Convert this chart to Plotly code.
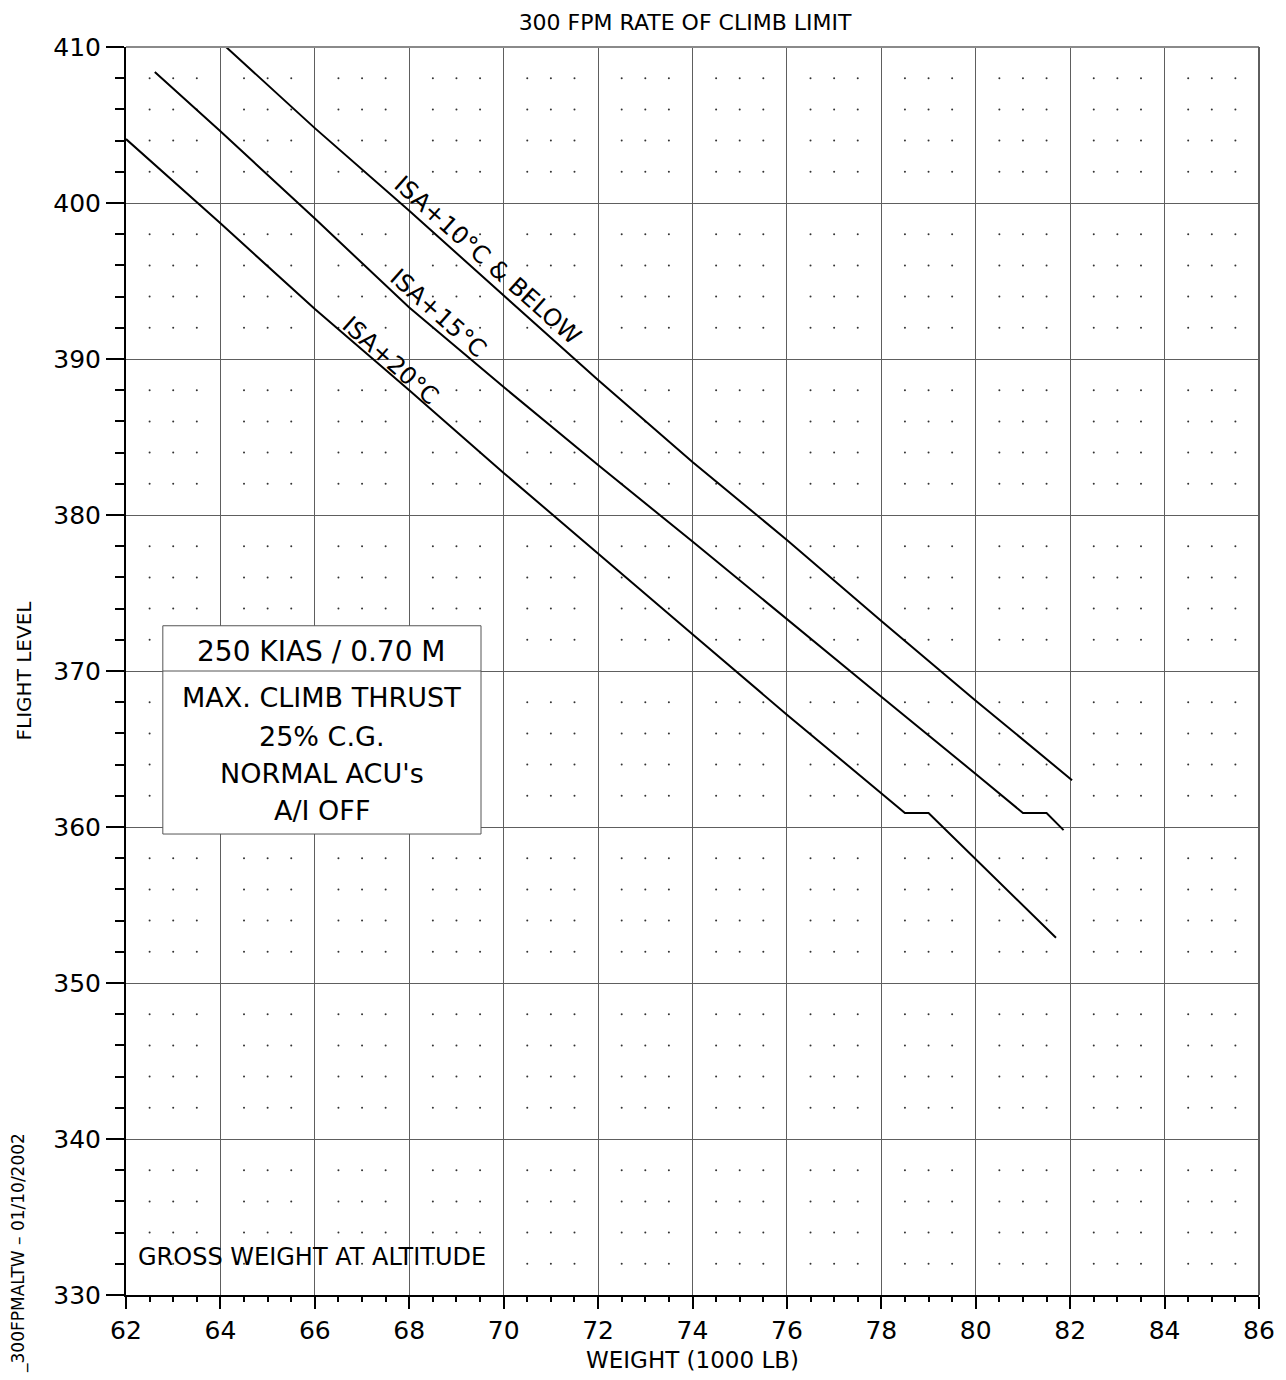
import numpy as np
import plotly.graph_objects as go

# ---- data ----
weight_isa10 = [64.12, 66, 68, 70, 72, 74, 76, 78, 80, 82.04]
fl_isa10 = [410.0, 404.8, 399.5, 394.1, 388.65, 383.4, 378.4, 373.2, 368.1, 363.0]

weight_isa15 = [62.61, 64, 66, 68, 70, 72, 74, 76, 78, 80, 81.0, 81.5, 81.86]
fl_isa15 = [408.4, 404.6, 399.0, 393.3, 388.2, 383.2, 378.3, 373.3, 368.35, 363.4, 360.9, 360.9, 359.8]

weight_isa20 = [62, 64, 66, 68, 70, 72, 74, 76, 78.5, 79.0, 81.7]
fl_isa20 = [404.1, 398.7, 393.2, 388.0, 382.7, 377.5, 372.35, 367.2, 360.9, 360.9, 352.9]

curve_labels = ["ISA+10°C & BELOW", "ISA+15°C", "ISA+20°C"]
x_ticks = list(range(62, 87, 2))
y_ticks = list(range(330, 411, 10))
box_lines = ["250 KIAS / 0.70 M", "MAX. CLIMB THRUST", "25% C.G.", "NORMAL ACU's", "A/I OFF"]

FONT = "DejaVu Sans"

fig = go.Figure()

# dotted minor grid (dots at minor intersections)
dx, dy = [], []
for xv in np.arange(62.5, 86.0, 0.5):
    if abs(xv / 2 - round(xv / 2)) < 1e-9:
        continue
    for yv in range(332, 410, 2):
        if yv % 10 == 0:
            continue
        dx.append(xv)
        dy.append(yv)
fig.add_trace(go.Scatter(x=dx, y=dy, mode="markers",
                         marker=dict(size=2, color="#333333"),
                         hoverinfo="skip", showlegend=False))

for wx, fy in [(weight_isa10, fl_isa10), (weight_isa15, fl_isa15), (weight_isa20, fl_isa20)]:
    fig.add_trace(go.Scatter(x=wx, y=fy, mode="lines",
                             line=dict(color="black", width=2),
                             showlegend=False))

axis_common = dict(
    showgrid=True, gridcolor="#5e5e5e", gridwidth=1,
    showline=True, linecolor="black", linewidth=2,
    ticks="outside", tickcolor="black", tickwidth=2,
    zeroline=False,
    tickfont=dict(family=FONT, size=25, color="black"),
)

fig.update_xaxes(range=[62, 86], tickvals=x_ticks, ticktext=[str(v) for v in x_ticks],
                 ticklen=12,
                 minor=dict(dtick=0.5, tick0=62, ticks="outside", ticklen=5,
                            tickcolor="black", tickwidth=2, showgrid=False),
                 title=dict(text="WEIGHT (1000 LB)", font=dict(family=FONT, size=23, color="black"),
                            standoff=8),
                 **axis_common)
fig.update_yaxes(range=[330, 410], tickvals=y_ticks, ticktext=[str(v) for v in y_ticks],
                 ticklen=18,
                 minor=dict(dtick=2, tick0=330, ticks="outside", ticklen=9,
                            tickcolor="black", tickwidth=2, showgrid=False),
                 title=dict(text="FLIGHT LEVEL", font=dict(family=FONT, size=20, color="black"),
                            standoff=16),
                 **axis_common)

shapes = [
    # top and right borders (gridline style)
    dict(type="line", xref="paper", yref="paper", x0=0, x1=1, y0=1, y1=1,
         line=dict(color="#8a8a8a", width=2), layer="above"),
    dict(type="line", xref="paper", yref="paper", x0=1, x1=1, y0=0, y1=1,
         line=dict(color="#5e5e5e", width=2), layer="above"),
    # conditions box
    dict(type="rect", xref="x", yref="y", x0=62.78, x1=69.52, y0=359.55, y1=372.9,
         fillcolor="white", line=dict(color="#555555", width=1), layer="above"),
    dict(type="line", xref="x", yref="y", x0=62.78, x1=69.52, y0=370, y1=370,
         line=dict(color="#555555", width=1), layer="above"),
]

annotations = []
box_y = [371.22, 368.33, 365.77, 363.4, 361.03]
box_size = [28, 27, 27, 27, 27]
for txt, yv, fs in zip(box_lines, box_y, box_size):
    annotations.append(dict(x=66.15, y=yv, xref="x", yref="y", text=txt, showarrow=False,
                            font=dict(family=FONT, size=fs, color="black"),
                            xanchor="center", yanchor="middle"))

label_pos = [(69.65, 396.35), (68.61, 392.95), (67.61, 389.87)]
for txt, (lx, ly) in zip(curve_labels, label_pos):
    annotations.append(dict(x=lx, y=ly, xref="x", yref="y", text=txt, showarrow=False,
                            textangle=41.6,
                            font=dict(family=FONT, size=24, color="black"),
                            xanchor="center", yanchor="middle"))

annotations.append(dict(x=62.22, y=332.45, xref="x", yref="y", text="GROSS WEIGHT AT ALTITUDE",
                        showarrow=False, font=dict(family=FONT, size=24, color="black"),
                        xanchor="left", yanchor="middle"))
annotations.append(dict(x=(18 - 126) / 1133, y=(1295 - 1253) / 1248, xref="paper", yref="paper",
                        text="_300FPMALTW – 01/10/2002",
                        showarrow=False, font=dict(family=FONT, size=17, color="black"),
                        textangle=-90, xanchor="center", yanchor="middle"))

# page body adds an 8px offset; margins compensate so the plot sits at 126..1259 x 47..1295
fig.update_layout(
    width=1286, height=1380,
    margin=dict(l=118, r=35, t=39, b=93),
    paper_bgcolor="white", plot_bgcolor="white",
    title=dict(text="300 FPM RATE OF CLIMB LIMIT", x=(685 - 126) / 1133, xref="paper",
               xanchor="center", y=1 - 14 / 1380, yanchor="middle",
               font=dict(family=FONT, size=22, color="black")),
    shapes=shapes,
    annotations=annotations,
    showlegend=False,
)

fig.write_html("out.html")
